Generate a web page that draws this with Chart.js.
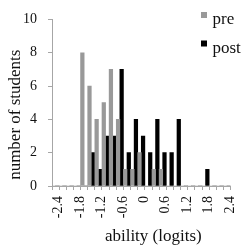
<!DOCTYPE html>
<html>
<head>
<meta charset="utf-8">
<script src="https://cdn.jsdelivr.net/npm/chart.js@4.4.1/dist/chart.umd.min.js"></script>
<style>
body{margin:0;background:#fff;}
#wrap{width:250px;height:250px;}
</style>
</head>
<body>
<div id="wrap"><canvas id="mycanvas" width="250" height="250"></canvas></div>
<script>
// bins of ability (logits), 0.2 wide
var bins = ['-2.4','-2.2','-2.0','-1.8','-1.6','-1.4','-1.2','-1.0','-0.8','-0.6','-0.4','-0.2','0',
	'0.2','0.4','0.6','0.8','1.0','1.2','1.4','1.6','1.8','2.0','2.2','2.4'];
var tickLabels = ['-2.4','-1.8','-1.2','-0.6','0','0.6','1.2','1.8','2.4'];
var pre  = [0,0,0,0,8,6,4,5,7,4,1,1,2,0,1,1,0,0,0,0,0,0,0,0,0];
var post = [0,0,0,0,0,2,1,3,3,7,2,4,3,2,4,2,2,4,0,0,0,1,0,0,0];
var xTitle = 'ability (logits)';
var yTitle = 'number of students';

var serif = "'Liberation Serif', 'Times New Roman', serif";
var axisGrey = '#a6a6a6';

// legend inside the plot (top right) + axis titles, placed like the excel original
var extrasPlugin = {
	id:'extras',
	afterDraw:function(chart){
		var ctx = chart.ctx;
		var a = chart.chartArea;
		ctx.save();
		ctx.font = '17px ' + serif;
		ctx.textBaseline = 'alphabetic';
		ctx.textAlign = 'left';
		chart.data.datasets.forEach(function(ds, i){
			var y = 24 + i*28.5;
			ctx.fillStyle = ds.backgroundColor;
			ctx.fillRect(201, y-12, 6, 6);
			ctx.fillStyle = '#111';
			ctx.fillText(ds.label, 212.5, y);
		});
		// axis titles
		ctx.fillStyle = '#111';
		ctx.textAlign = 'center';
		ctx.textBaseline = 'middle';
		ctx.fillText(xTitle, (a.left + a.right)/2 + 12, 237);
		ctx.translate(16, (a.top + a.bottom)/2 + 12);
		ctx.rotate(-Math.PI/2);
		ctx.fillText(yTitle, 0, 0);
		ctx.restore();
	}
};

var chartdata = {
	labels: bins,
	datasets:[
		{label:'pre', backgroundColor:'#999999', data:pre, categoryPercentage:1, barPercentage:1},
		{label:'post', backgroundColor:'#000000', data:post, categoryPercentage:1, barPercentage:1}
	]
};

var ctx = document.getElementById('mycanvas');
var barGraph = new Chart(ctx,{
	type:'bar',
	data:chartdata,
	plugins:[extrasPlugin],
	options:{
		responsive:false,
		animation:false,
		layout:{padding:{top:15, right:10, left:0, bottom:0}},
		plugins:{legend:{display:false}, tooltip:{enabled:false}},
		scales:{
			x:{
				offset:true,
				grid:{display:true, offset:true, drawOnChartArea:false, tickLength:4, color:axisGrey},
				border:{color:axisGrey},
				ticks:{
					autoSkip:false, maxRotation:90, minRotation:90, padding:6, labelOffset:3,
					color:'#111', font:{family:serif, size:14},
					callback:function(v, i){
						var l = bins[i];
						return tickLabels.indexOf(l) >= 0 ? l : '';
					}
				},
				afterFit:function(s){ s.height = 64; }
			},
			y:{
				min:0, max:10,
				grid:{display:true, drawOnChartArea:false, tickLength:4, color:axisGrey},
				border:{color:axisGrey},
				ticks:{stepSize:2, padding:11, color:'#111', font:{family:serif, size:14}},
				afterFit:function(s){ s.width = 52; }
			}
		}
	}
});
</script>
</body>
</html>
